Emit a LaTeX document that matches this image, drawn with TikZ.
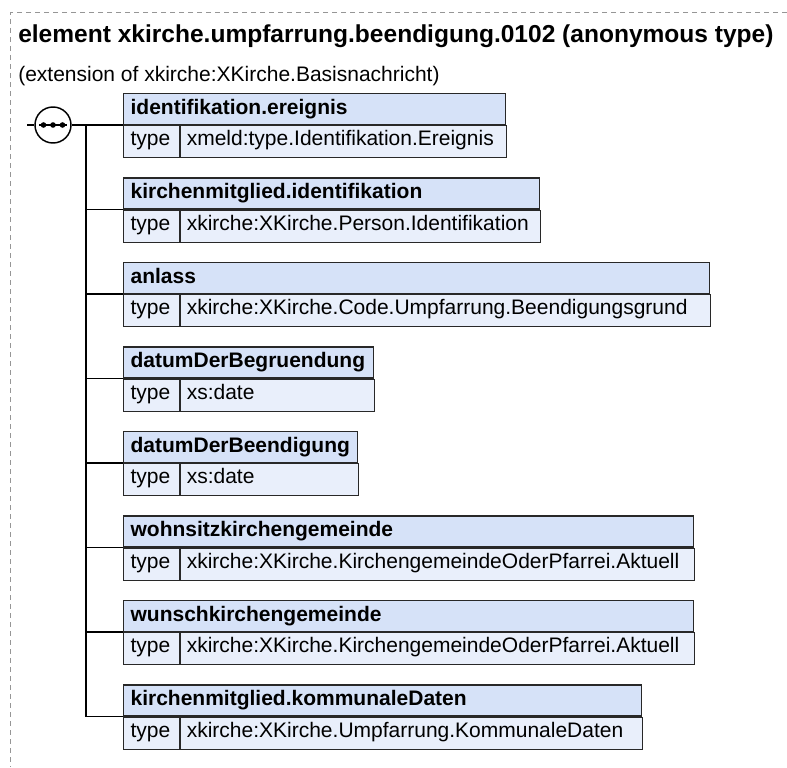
\documentclass[tikz,border=0pt]{standalone}
\usepackage{fontspec}
\setmainfont{Liberation Sans}
\usepackage{xcolor}
\usetikzlibrary{positioning, calc}

\definecolor{headblue}{RGB}{214,226,248}
\definecolor{rowblue}{RGB}{233,239,251}
\definecolor{boxline}{RGB}{40,40,40}
\definecolor{framegray}{RGB}{150,150,150}

\begin{document}
\begin{tikzpicture}[
    x=0.75pt, y=-0.75pt,
    every node/.style={inner sep=0pt, font=\fontsize{15.75pt}{18pt}\selectfont},
    frame/.style={draw=framegray, dash pattern=on 3.75pt off 3pt, line width=0.75pt},
    head/.style={draw=boxline, fill=headblue, line width=0.9pt, anchor=south west, inner xsep=5.25pt, minimum height=23.25pt, text width={(#1-137)*0.75pt}, text height=11.25pt, text depth=3.4pt, font=\fontsize{15.75pt}{18pt}\selectfont\bfseries},
    typecell/.style={draw=boxline, fill=rowblue, line width=0.9pt, anchor=north west, inner xsep=5.25pt, minimum height=24pt, text width=31.5pt, text height=10.5pt, text depth=4.1pt},
    typeval/.style={draw=boxline, fill=rowblue, line width=0.9pt, anchor=north west, inner xsep=4.5pt, minimum height=24pt, text width={(#1-191)*0.75pt}, text height=10.5pt, text depth=4.1pt},
    link/.style={line width=1.1pt}
]
    \useasboundingbox (0,0) rectangle (787,767);
    \draw[frame] (787,13) -| (10,767);

    % Title
    \node[anchor=base west, font=\fontsize{18.4pt}{22pt}\selectfont\bfseries] (title) at (18,43) {element xkirche.umpfarrung.beendigung.0102 (anonymous type)};
    \node[anchor=base west] (subtitle) at (18,81) {(extension of xkirche:XKirche.Basisnachricht)};

    % Sequence compositor
    \node[draw, circle, line width=1.1pt, fill=white, minimum size=27pt] (seq) at (53,125) {};
    \draw[line width=0.9pt] ($(seq.center)+(-14,0)$) -- ($(seq.center)+(14,0)$);
    \foreach \dx in {-9.5,0,9.5}
        \fill ($(seq.center)+(\dx,0)$) circle (2.1pt);

    % Elements
    \node[head=505] (h1) at (123,125) {identifikation.ereignis};
    \node[typecell] (t1) at (h1.south west) {type};
    \node[typeval=505] (v1) at (t1.north east) {xmeld:type.Identifikation.Ereignis};

    \node[head=539] (h2) at (123,209.5) {kirchenmitglied.identifikation};
    \node[typecell] (t2) at (h2.south west) {type};
    \node[typeval=539] (v2) at (t2.north east) {xkirche:XKirche.Person.Identifikation};

    \node[head=709] (h3) at (123,294) {anlass};
    \node[typecell] (t3) at (h3.south west) {type};
    \node[typeval=709] (v3) at (t3.north east) {xkirche:XKirche.Code.Umpfarrung.Beendigungsgrund};

    \node[head=373] (h4) at (123,378.5) {datumDerBegruendung};
    \node[typecell] (t4) at (h4.south west) {type};
    \node[typeval=373] (v4) at (t4.north east) {xs:date};

    \node[head=357] (h5) at (123,463) {datumDerBeendigung};
    \node[typecell] (t5) at (h5.south west) {type};
    \node[typeval=357] (v5) at (t5.north east) {xs:date};

    \node[head=693] (h6) at (123,547.5) {wohnsitzkirchengemeinde};
    \node[typecell] (t6) at (h6.south west) {type};
    \node[typeval=693] (v6) at (t6.north east) {xkirche:XKirche.KirchengemeindeOderPfarrei.Aktuell};

    \node[head=693] (h7) at (123,632) {wunschkirchengemeinde};
    \node[typecell] (t7) at (h7.south west) {type};
    \node[typeval=693] (v7) at (t7.north east) {xkirche:XKirche.KirchengemeindeOderPfarrei.Aktuell};

    \node[head=641] (h8) at (123,716.5) {kirchenmitglied.kommunaleDaten};
    \node[typecell] (t8) at (h8.south west) {type};
    \node[typeval=641] (v8) at (t8.north east) {xkirche:XKirche.Umpfarrung.KommunaleDaten};

    % Connections
    \coordinate (stub) at (27,125);
    \coordinate (trunk) at (86,125);
    \draw[link] (stub) -- (seq.west);
    \draw[link] (seq.east) -- (h1.south west);
    \foreach \n in {2,...,8}
        \draw[link] (trunk) |- (h\n.south west);

\end{tikzpicture}
\end{document}
